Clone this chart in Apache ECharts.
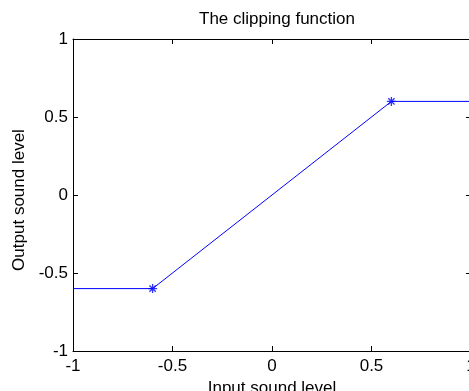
<!DOCTYPE html>
<html><head><meta charset="utf-8">
<script src="https://cdn.jsdelivr.net/npm/echarts@6/dist/echarts.min.js"></script>
<style>html,body{margin:0;padding:0;background:#fff}#c{width:469px;height:391px}</style>
</head><body><div id="c"></div>
<script>
const lineX = [-1, -0.6, 0.6, 1];
const lineY = [-0.6, -0.6, 0.6, 0.6];
const markX = [-0.6, 0.6];
const markY = [-0.6, 0.6];
const xTicks = [-1, -0.5, 0, 0.5, 1];
const yTicks = [-1, -0.5, 0, 0.5, 1];

const font = 'Liberation Sans, Arial, sans-serif';
const axisCommon = {
  min: -1, max: 1, interval: 0.5,
  axisLine: {show: true, onZero: false, lineStyle: {color: '#000', width: 1}},
  axisTick: {show: true, inside: true, length: 5, lineStyle: {color: '#000'}},
  splitLine: {show: false}
};
const chart = echarts.init(document.getElementById('c'), null, {renderer: 'canvas'});
chart.setOption({
  animation: false,
  backgroundColor: '#fff',
  title: {text: 'The clipping function', left: 272, top: 6, textAlign: 'center',
    textStyle: {fontFamily: font, fontSize: 17, fontWeight: 'normal', color: '#000'}},
  grid: {left: 73, top: 39, width: 398, height: 312, containLabel: false, outerBoundsMode: 'none'},
  xAxis: [
    Object.assign({type: 'value', position: 'bottom',
      name: 'Input sound level', nameLocation: 'middle', nameGap: 25,
      nameTextStyle: {fontFamily: font, fontSize: 17, color: '#000'},
      axisLabel: {fontFamily: font, fontSize: 17, color: '#000', margin: 7,
        formatter: v => String(v)}}, axisCommon),
    Object.assign({type: 'value', position: 'top', axisLabel: {show: false}}, axisCommon)
  ],
  yAxis: [
    Object.assign({type: 'value', position: 'left',
      name: 'Output sound level', nameLocation: 'middle', nameGap: 42, nameRotate: 90,
      nameTextStyle: {fontFamily: font, fontSize: 17, color: '#000', padding: [0, 10, 0, 0]},
      axisLabel: {fontFamily: font, fontSize: 17, color: '#000', margin: 5,
        formatter: v => String(v)}}, axisCommon),
    Object.assign({type: 'value', position: 'right', axisLabel: {show: false}}, axisCommon)
  ],
  series: [
    {type: 'line', data: lineX.map((x, i) => [x, lineY[i]]), showSymbol: false,
      lineStyle: {color: '#0000ff', width: 1}, silent: true},
    {type: 'scatter', data: markX.map((x, i) => [x, markY[i]]),
      symbol: 'path://M0 5 L10 5 M5 0 L5 10 M1.5 1.5 L8.5 8.5 M8.5 1.5 L1.5 8.5',
      symbolSize: 9,
      itemStyle: {color: 'none', borderColor: '#0000ff', borderWidth: 1.3}}
  ]
});
</script></body></html>
